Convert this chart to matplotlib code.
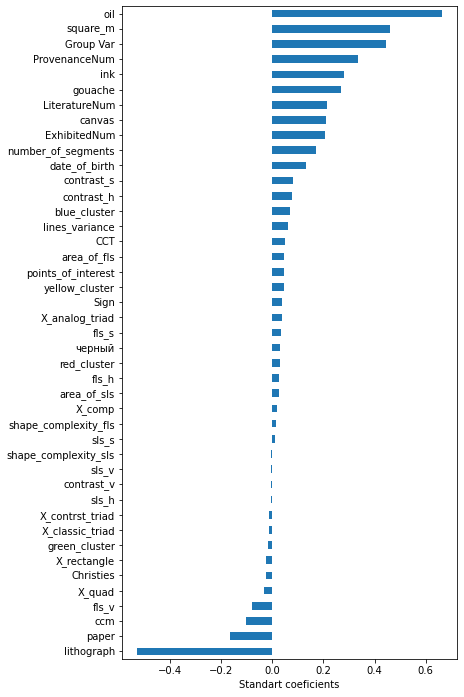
import matplotlib
matplotlib.use("Agg")
import matplotlib.pyplot as plt

# bottom to top
categories = [
    "lithograph", "paper", "ccm", "fls_v", "X_quad", "Christies", "X_rectangle",
    "green_cluster", "X_classic_triad", "X_contrst_triad", "sls_h", "contrast_v",
    "sls_v", "shape_complexity_sls", "sls_s", "shape_complexity_fls", "X_comp",
    "area_of_sls", "fls_h", "red_cluster", "черный", "fls_s", "X_analog_triad",
    "Sign", "yellow_cluster", "points_of_interest", "area_of_fls", "CCT",
    "lines_variance", "blue_cluster", "contrast_h", "contrast_s", "date_of_birth",
    "number_of_segments", "ExhibitedNum", "canvas", "LiteratureNum", "gouache",
    "ink", "ProvenanceNum", "Group Var", "square_m", "oil",
]
values = [
    -0.529, -0.165, -0.102, -0.078, -0.031, -0.024, -0.024,
    -0.016, -0.012, -0.012, -0.007, -0.004,
    -0.004, -0.004, 0.012, 0.016, 0.020,
    0.024, 0.027, 0.031, 0.031, 0.035, 0.039,
    0.039, 0.047, 0.047, 0.047, 0.051,
    0.063, 0.067, 0.078, 0.082, 0.133,
    0.172, 0.207, 0.211, 0.215, 0.270,
    0.282, 0.337, 0.443, 0.459, 0.663,
]
xlabel = "Standart coeficients"

fig = plt.figure(figsize=(464 / 72, 697 / 72), dpi=72)
ax = fig.add_axes([122 / 464, 1 - 659 / 697, (457 - 122) / 464, (659 - 6) / 697])
ypos = list(range(len(categories)))
ax.barh(ypos, values, height=0.5, color="#1f77b4")
ax.set_yticks(ypos)
ax.set_yticklabels(categories)
ax.set_ylim(-0.5, len(categories) - 0.5)
ax.margins(x=0.05)
ax.set_xlabel(xlabel)
fig.savefig("out.png", dpi=72, facecolor="white")
